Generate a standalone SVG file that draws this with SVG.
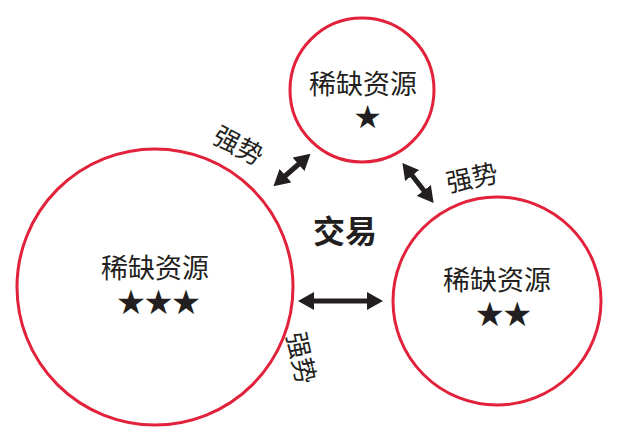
<svg xmlns="http://www.w3.org/2000/svg" width="617" height="440" viewBox="0 0 617 440">
<style>
.c{fill:none;stroke:#e2213a;stroke-width:3}
.t{font-family:"Noto Sans CJK SC","Noto Sans",sans-serif;fill:#231f20;text-anchor:middle}
.s{font-family:"DejaVu Sans",sans-serif;fill:#231f20;text-anchor:middle;letter-spacing:-3px}
.a{stroke:#231f20;stroke-width:5;fill:none}
</style>
<defs>
<marker id="h" viewBox="0 0 16 18" refX="2" refY="9" markerWidth="16" markerHeight="18" markerUnits="userSpaceOnUse" orient="auto-start-reverse">
<path d="M0,0 L16,9 L0,18 Z" fill="#231f20"/>
</marker>
</defs>
<rect width="617" height="440" fill="#fff"/>
<g id="node-top">
<circle class="c" cx="362" cy="90" r="72"/>
<text class="t" x="363" y="94" font-size="27">稀缺资源</text>
<text class="s" x="366" y="128" font-size="32">★</text>
</g>
<g id="node-left">
<circle class="c" cx="155" cy="287" r="138"/>
<text class="t" x="155" y="278" font-size="27">稀缺资源</text>
<text class="s" x="157" y="314" font-size="34">★★★</text>
</g>
<g id="node-right">
<circle class="c" cx="497" cy="301" r="104"/>
<text class="t" x="497" y="290" font-size="27">稀缺资源</text>
<text class="s" x="502" y="326" font-size="34">★★</text>
</g>
<g id="node-center">
<text class="t" x="345" y="243" font-size="32" font-weight="bold">交易</text>
</g>
<g id="connectors">
<line class="a" x1="284" y1="177" x2="300" y2="163" marker-start="url(#h)" marker-end="url(#h)"/>
<line class="a" x1="411" y1="174" x2="425" y2="192" marker-start="url(#h)" marker-end="url(#h)"/>
<line class="a" x1="312" y1="301" x2="369" y2="301" marker-start="url(#h)" marker-end="url(#h)"/>
</g>
<g id="labels">
<text class="t" x="0" y="0" font-size="26" transform="translate(234,154) rotate(28)">强势</text>
<text class="t" x="0" y="0" font-size="26" transform="translate(474,187) rotate(-12)">强势</text>
<text class="t" x="0" y="0" font-size="26" transform="translate(292,360) rotate(78)">强势</text>
</g>
</svg>
